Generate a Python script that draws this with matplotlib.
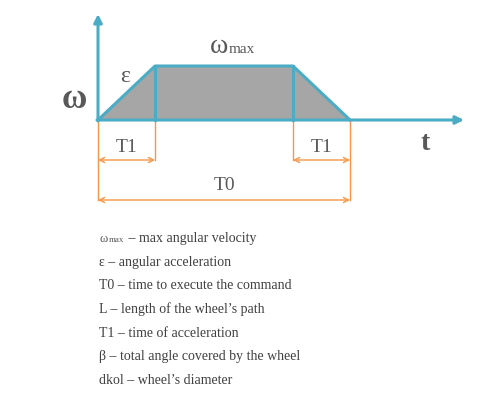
import matplotlib
matplotlib.use('agg')
import matplotlib.pyplot as plt

# speed profile (t in px units from origin, omega in px units)
t_pts = [0, 57, 195, 252]
w_pts = [0, 54, 54, 0]
t1 = t_pts[1] - t_pts[0]
t0 = t_pts[3] - t_pts[0]

legend_lines = [
    ("\u03c9", "max", " \u2013 max angular velocity"),
    ("\u03b5", "", " \u2013 angular acceleration"),
    ("T0", "", " \u2013 time to execute the command"),
    ("L", "", " \u2013 length of the wheel\u2019s path"),
    ("T1", "", " \u2013 time of acceleration"),
    ("\u03b2", "", " \u2013 total angle covered by the wheel"),
    ("dkol", "", " \u2013 wheel\u2019s diameter"),
]

blue = '#4bacc6'
gray = '#a6a6a6'
orange = '#f79646'
txt = '#595959'
serif = 'Liberation Serif'

fig = plt.figure(figsize=(4.98, 4.08), dpi=100)
ax = fig.add_axes([0, 0, 1, 1])
ax.set_xlim(-98, 400)
ax.set_ylim(-288, 120)
ax.axis('off')

# shaded area + outline
ax.fill(t_pts, w_pts, color=gray, zorder=1)
ax.plot(t_pts, w_pts, color=blue, lw=2.2, zorder=3)
ax.plot([t_pts[1], t_pts[1]], [0, w_pts[1]], color=blue, lw=2.2, zorder=3)
ax.plot([t_pts[2], t_pts[2]], [0, w_pts[2]], color=blue, lw=2.2, zorder=3)

# axes arrows
ax.annotate('', xy=(0, 106), xytext=(0, -1),
            arrowprops=dict(arrowstyle='-|>', color=blue, lw=2.2,
                            mutation_scale=12, shrinkA=0, shrinkB=0), zorder=4)
ax.annotate('', xy=(366, 0), xytext=(-1, 0),
            arrowprops=dict(arrowstyle='-|>', color=blue, lw=2.2,
                            mutation_scale=12, shrinkA=0, shrinkB=0), zorder=4)

# dimension lines
dim_y1 = -40
dim_y0 = -80
for x, yb in [(t_pts[0], dim_y0), (t_pts[1], dim_y1), (t_pts[2], dim_y1), (t_pts[3], dim_y0)]:
    ax.plot([x, x], [0, yb], color=orange, lw=1)
arr = dict(arrowstyle='<->', color=orange, lw=1, mutation_scale=9, shrinkA=0, shrinkB=0)
ax.annotate('', xy=(t_pts[0], dim_y1), xytext=(t_pts[1], dim_y1), arrowprops=arr)
ax.annotate('', xy=(t_pts[2], dim_y1), xytext=(t_pts[3], dim_y1), arrowprops=arr)
ax.annotate('', xy=(t_pts[0], dim_y0), xytext=(t_pts[3], dim_y0), arrowprops=arr)

ax.text(t1 / 2, -28, 'T1', fontsize=14, family=serif, color=txt, ha='center', va='center')
ax.text(t_pts[2] + t1 / 2, -28, 'T1', fontsize=14, family=serif, color=txt, ha='center', va='center')
ax.text(t0 / 2, -66, 'T0', fontsize=14, family=serif, color=txt, ha='center', va='center')

# symbols
ax.text(-24, 20, '\u03c9', fontsize=25, family=serif, weight='bold', color=txt, ha='center', va='center')
ax.text(27, 43, '\u03b5', fontsize=17, family=serif, color=txt, ha='center', va='center')
ax.text(112, 67, '\u03c9', fontsize=20, family=serif, color=txt, ha='left', va='baseline')
ax.text(131, 67, 'max', fontsize=11, family=serif, color=txt, ha='left', va='baseline')
ax.text(327, -24, 't', fontsize=20, family=serif, weight='bold', color=txt, ha='center', va='center')

# legend text
y = -122
for sym, sub, desc in legend_lines:
    if sub:
        ax.text(2, y, sym, fontsize=9, family=serif, color=txt, va='baseline')
        ax.text(11, y, sub, fontsize=6.5, family=serif, color=txt, va='baseline')
        ax.text(27, y, desc, fontsize=10, family=serif, color='#404040', va='baseline')
    else:
        ax.text(1, y, sym + desc, fontsize=10, family=serif, color='#404040', va='baseline')
    y -= 23.7

fig.savefig('out.png', dpi=100)
